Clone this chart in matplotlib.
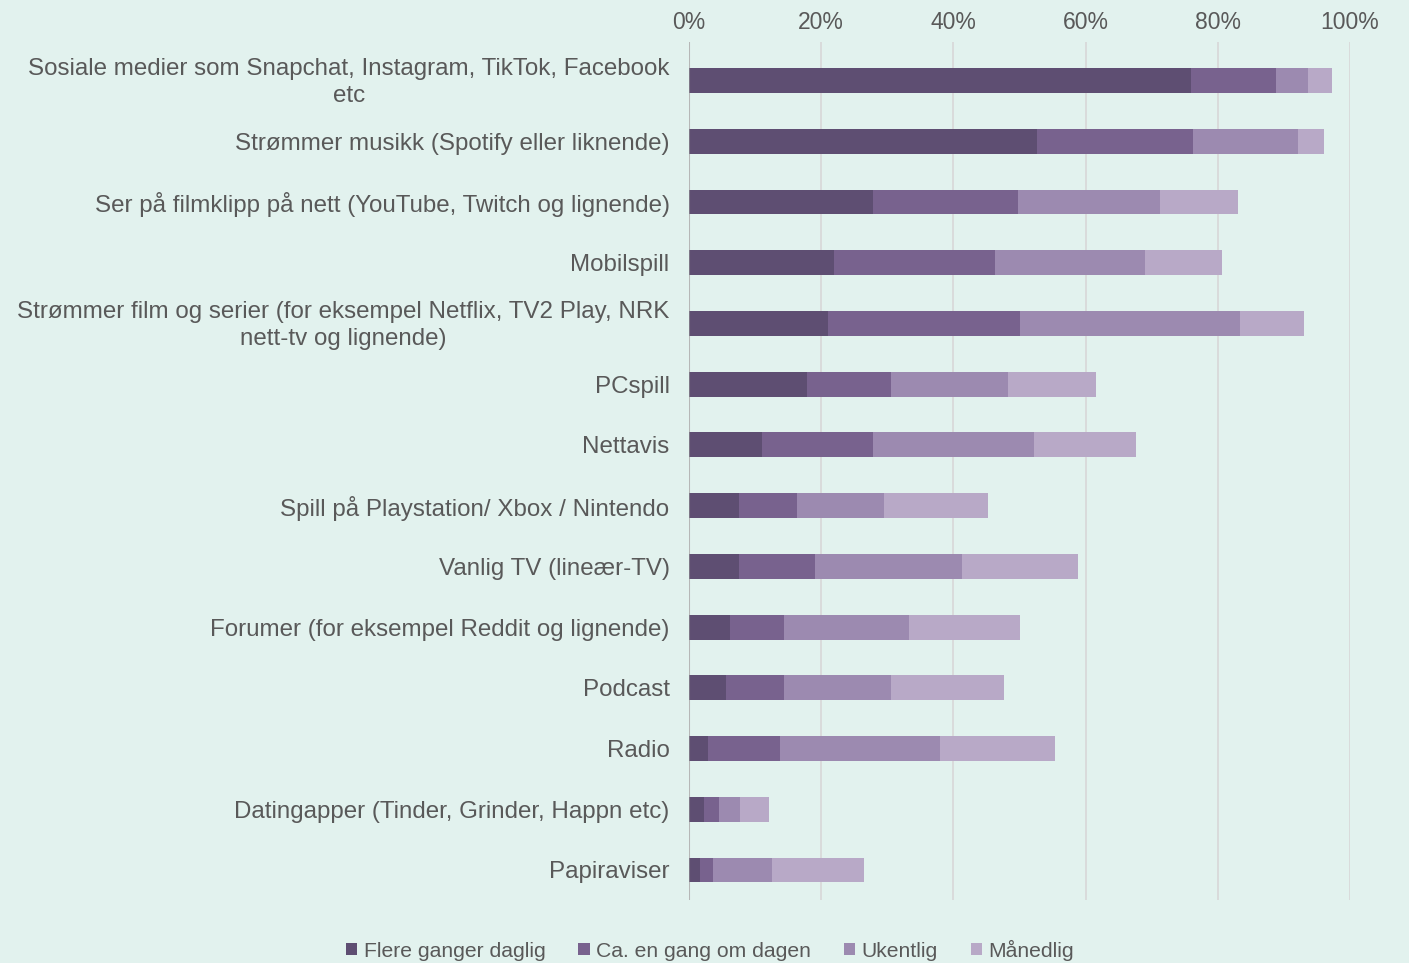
import matplotlib
matplotlib.use("Agg")
import matplotlib.pyplot as plt
import matplotlib.transforms as mtrans
import numpy as np

categories = [
    "Sosiale medier som Snapchat, Instagram, TikTok, Facebook\netc",
    "Strømmer musikk (Spotify eller liknende)",
    "Ser på filmklipp på nett (YouTube, Twitch og lignende)",
    "Mobilspill",
    "Strømmer film og serier (for eksempel Netflix, TV2 Play, NRK\nnett-tv og lignende)",
    "PCspill",
    "Nettavis",
    "Spill på Playstation/ Xbox / Nintendo",
    "Vanlig TV (lineær-TV)",
    "Forumer (for eksempel Reddit og lignende)",
    "Podcast",
    "Radio",
    "Datingapper (Tinder, Grinder, Happn etc)",
    "Papiraviser",
]

series_names = ["Flere ganger daglig", "Ca. en gang om dagen", "Ukentlig", "Månedlig"]

flere_ganger_daglig = [76.0, 52.7, 27.8, 22.0, 21.1, 17.9, 11.0, 7.5, 7.5, 6.2, 5.6, 2.8, 2.2, 1.6]
en_gang_om_dagen    = [12.8, 23.6, 22.0, 24.3, 29.0, 12.7, 16.8, 8.9, 11.6, 8.2, 8.8, 11.0, 2.3, 2.1]
ukentlig            = [4.9, 15.8, 21.4, 22.7, 33.2, 17.6, 24.4, 13.1, 22.2, 18.9, 16.2, 24.1, 3.2, 8.9]
maanedlig           = [3.6, 4.0, 11.9, 11.7, 9.7, 13.4, 15.5, 15.8, 17.6, 16.7, 17.0, 17.5, 4.4, 13.8]

colors = ["#5E4E72", "#78628E", "#9C8AB0", "#B8A9C7"]
bg = "#E2F2EE"
text_color = "#595959"

plt.rcParams["font.family"] = ["Liberation Sans", "DejaVu Sans"]

fig = plt.figure(figsize=(14.09, 9.63), dpi=100, facecolor=bg)
ax = fig.add_axes([689 / 1409, 1 - 900 / 963, (1350 - 689) / 1409, (900 - 42) / 963])
ax.set_facecolor(bg)

y = np.arange(len(categories))
left = np.zeros(len(categories))
for name, vals, c in zip(series_names, [flere_ganger_daglig, en_gang_om_dagen, ukentlig, maanedlig], colors):
    vals = np.array(vals)
    ax.barh(y, vals, left=left, height=0.41, color=c, label=name, zorder=2)
    left += vals

ax.set_xlim(0, 100)
ax.set_ylim(len(categories) - 1 + 30 / 60.7, -38.5 / 60.7)
ax.set_xticks(np.arange(0, 101, 20))
ax.set_xticklabels([f"{v}%" for v in range(0, 101, 20)])
ax.xaxis.tick_top()
ax.tick_params(axis="x", length=0, pad=6, labelsize=16.5, colors=text_color)
ax.set_yticks(y)
ax.set_yticklabels(categories)
ax.tick_params(axis="y", length=0, pad=14, labelsize=17.4, colors=text_color)
shift = mtrans.ScaledTranslation(0, 3 / 100, fig.dpi_scale_trans)
for lab in ax.get_yticklabels():
    lab.set_multialignment("center")
    lab.set_linespacing(1.32)
    if "\n" in lab.get_text():
        lab.set_transform(lab.get_transform() + shift)

ax.grid(axis="x", color="#D9D9D9", linewidth=1.3, zorder=0)
ax.grid(axis="y", visible=False)
for s in ax.spines.values():
    s.set_visible(False)
ax.axvline(0, color="#9A9A9A", alpha=0.55, linewidth=1.5, zorder=3)

leg = fig.legend(loc="center", bbox_to_anchor=(710 / 1409, 1 - 950 / 963), ncol=4,
                 frameon=False, fontsize=15.2, handlelength=0.55, handleheight=0.55,
                 handletextpad=0.3, columnspacing=1.55, labelcolor=text_color)

fig.savefig("out.png", dpi=100, facecolor=bg)
